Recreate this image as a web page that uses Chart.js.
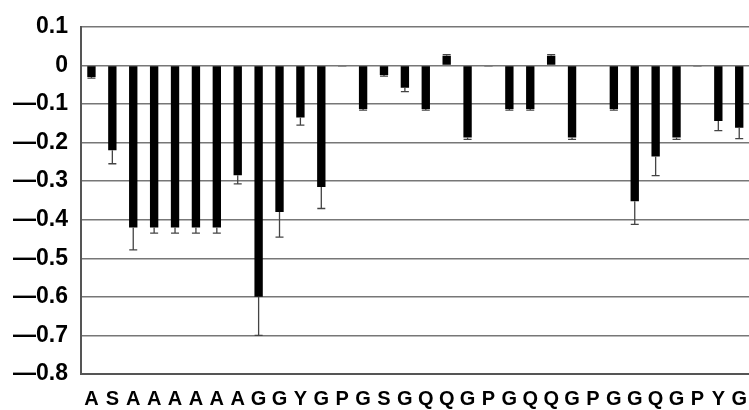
<!DOCTYPE html>
<html>
<head>
<meta charset="utf-8">
<script src="https://cdn.jsdelivr.net/npm/chart.js@4.4.1/dist/chart.umd.min.js"></script>
<style>
  html, body { margin: 0; padding: 0; background: #fff; overflow: hidden; }
  #wrap { width: 752px; height: 410px; position: relative; }
</style>
</head>
<body>
<div id="wrap"><canvas id="chart"></canvas></div>
<script>
// residues along the x axis
const residues = ['A','S','A','A','A','A','A','A','G','G','Y','G','P','G','S','G',
                  'Q','Q','G','P','G','Q','Q','G','P','G','G','Q','G','P','Y','G'];

// bar heights
const values = [-0.03, -0.22, -0.42, -0.42, -0.42, -0.42, -0.42, -0.285, -0.6, -0.38, -0.135, -0.315, -0.003, -0.113, -0.025, -0.058,
                -0.113, 0.025, -0.187, -0.003, -0.113, -0.113, 0.025, -0.187, 0, -0.113, -0.352, -0.236, -0.187, -0.003, -0.144, -0.162];

// error bar lengths (drawn away from zero)
const errors = [0.003, 0.035, 0.058, 0.015, 0.015, 0.015, 0.015, 0.022, 0.1, 0.065, 0.02, 0.056, 0, 0.003, 0.003, 0.01,
                0.003, 0.003, 0.005, 0, 0.003, 0.003, 0.003, 0.005, 0, 0.003, 0.06, 0.05, 0.005, 0, 0.025, 0.028];

const yTicks = [0.1, 0, -0.1, -0.2, -0.3, -0.4, -0.5, -0.6, -0.7, -0.8];

// error bars drawn from the bar end outwards
const errorBars = {
    id: 'errorBars',
    afterDatasetsDraw(chart) {
        const ctx = chart.ctx;
        const y = chart.scales.y;
        const meta = chart.getDatasetMeta(0);
        ctx.save();
        ctx.strokeStyle = '#444';
        ctx.lineWidth = 1.3;
        meta.data.forEach((bar, i) => {
            const e = errors[i];
            if (!e) return;
            const v = values[i];
            const end = v < 0 ? v - e : v + e;
            const y0 = y.getPixelForValue(v);
            const y1 = y.getPixelForValue(end);
            ctx.beginPath();
            ctx.moveTo(bar.x, y0);
            ctx.lineTo(bar.x, y1);
            ctx.moveTo(bar.x - 4, y1);
            ctx.lineTo(bar.x + 4, y1);
            ctx.stroke();
        });
        ctx.restore();
    }
};

const ctx = document.getElementById('chart').getContext('2d');
new Chart(ctx, {
    type: 'bar',
    data: {
        labels: residues,
        datasets: [{
            data: values,
            backgroundColor: '#000',
            borderWidth: 0,
            barPercentage: 0.4,
            categoryPercentage: 1.0
        }]
    },
    options: {
        responsive: true,
        maintainAspectRatio: false,
        animation: false,
        layout: { padding: { top: 15, left: 4, right: 0, bottom: 0 } },
        plugins: { legend: { display: false }, tooltip: { enabled: false } },
        scales: {
            x: {
                afterFit(scale) { scale.height = 36; },
                grid: { display: false },
                border: { display: true, color: '#555', width: 2 },
                ticks: {
                    color: '#000',
                    font: { family: 'Liberation Sans, Arial', size: 20, weight: 'bold' },
                    padding: 5,
                    maxRotation: 0,
                    autoSkip: false
                }
            },
            y: {
                min: -0.8,
                max: 0.1,
                afterFit(scale) { scale.width = 77; },
                afterBuildTicks(scale) {
                    scale.ticks = yTicks.map(v => ({ value: v }));
                },
                grid: { color: '#777', lineWidth: 1.5, drawTicks: false },
                border: { display: true, color: '#555', width: 2 },
                ticks: {
                    color: '#000',
                    padding: 13,
                    font: { family: 'Liberation Sans, Arial', size: 23, weight: 'bold' },
                    callback: v => {
                        const r = Math.round(v * 10) / 10;
                        if (r === 0) return '0';
                        return r < 0 ? '\u2014' + Math.abs(r).toFixed(1) : r.toFixed(1);
                    }
                }
            }
        }
    },
    plugins: [errorBars]
});
</script>
</body>
</html>
